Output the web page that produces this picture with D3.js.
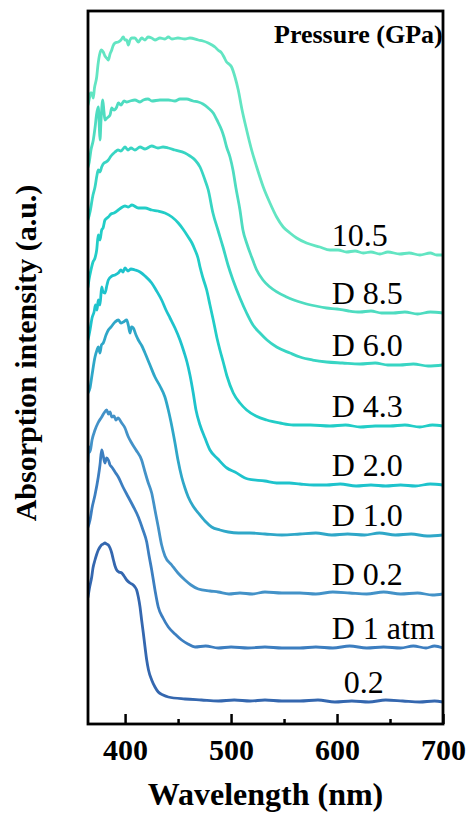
<!DOCTYPE html>
<html>
<head>
<meta charset="utf-8">
<script src="https://cdn.jsdelivr.net/npm/d3@7"></script>
<style>
  body { margin: 0; background: #fff; }
  svg { display: block; }
</style>
</head>
<body>
<div id="chart"></div>
<script>
// pressure labels, top to bottom
const labels = ["10.5", "D 8.5", "D 6.0", "D 4.3", "D 2.0", "D 1.0", "D 0.2", "D 1 atm", "0.2"];
const colors = ["#62e5c2", "#4edcc0", "#38d5c3", "#22cdc7", "#1ec3cc", "#2fa7c8", "#4392c8", "#3c7ec0", "#3467af"];

// [wavelength (nm), stacked absorption (a.u.)]
const s105 = [[365,61.9],[366.4,62.6],[367.4,63.1],[368.5,63.1],[370,62.6],[371.1,63.6],[373.2,64.7],[374.4,65.9],[376.3,67.1],[377.7,67.4],[379.4,67.2],[381,66.8],[382.6,66.6],[384.2,66.4],[385.8,67.0],[387.4,67.4],[388.6,67.8],[390.5,68.1],[393.6,68.2],[396.1,68.4],[398.3,68.7],[399.9,68.4],[401.5,68.4],[403,67.9],[404.6,68.4],[406.2,68.6],[409.3,68.6],[412.5,68.2],[415.6,68.6],[418.8,68.4],[421.6,68.7],[425.1,68.6],[428.2,68.4],[432.9,68.6],[437.6,68.5],[440.8,68.7],[444.2,68.5],[449.9,68.6],[456.5,68.5],[461.2,68.6],[469.1,68.4],[473.5,68.3],[478.5,68.1],[482,67.9],[484.8,67.7],[487.6,67.4],[491.1,67.1],[493.3,66.7],[495.8,66.2],[498,66.0],[500.5,65.7],[503.7,64.7],[506.8,63.4],[510,61.6],[514.7,59.4],[519.4,57.4],[524.2,55.7],[530.4,53.7],[536.7,52.1],[543,50.7],[549.2,49.7],[555.6,49.1],[561.9,48.6],[571.2,48.1],[583.8,47.7],[593.3,47.4],[601,47.4],[609,47.2],[617,47.3],[624.7,47.1],[632,47.2],[640.5,47.0],[648,47.2],[659.3,47.0],[668,47.1],[678.2,46.9],[688,47.1],[694,46.9],[700,46.9]];
const sD85 = [[365,55.7],[366.2,56.2],[367.8,57.4],[370,58.4],[371.6,59.6],[373,60.9],[374.7,61.7],[375.6,59.9],[376.3,58.4],[377.3,60.4],[378.9,62.4],[380.1,61.2],[381,60.4],[382.9,60.6],[384.2,60.7],[385.8,60.9],[387.4,61.6],[389.5,61.4],[392.1,61.7],[393.6,62.1],[396.1,61.9],[399,62.3],[401.5,62.2],[404.6,62.3],[409.3,62.4],[414.1,62.2],[417.2,62.4],[421.6,62.5],[425.4,62.3],[432.9,62.4],[440.8,62.4],[447.1,62.3],[451.8,62.5],[458.1,62.5],[464.1,62.3],[469.1,62.2],[473.5,62.0],[478.5,61.6],[483.2,61.1],[486.7,60.4],[491.1,59.4],[493.3,58.7],[495.8,57.7],[499,56.7],[501.8,55.4],[504.6,53.6],[508.4,51.4],[511.2,49.4],[514.7,48.1],[519.4,46.7],[524.2,45.4],[530.1,44.4],[536.7,43.7],[552.4,42.7],[568.1,42.1],[580,41.8],[590.2,41.6],[600,41.5],[611,41.3],[621.6,41.2],[632,41.3],[642,41.1],[653,41.1],[664,41.2],[676,41.0],[688,41.2],[700,41.1]];
const sD60 = [[365,50.4],[366.9,51.2],[369.7,52.9],[371.6,53.7],[373.5,54.9],[374.7,55.4],[376.3,55.2],[377.9,55.7],[380.1,56.1],[382,56.2],[384.2,56.4],[386.7,56.8],[390.5,57.2],[393.3,57.4],[396.1,57.3],[399.9,57.7],[402.7,57.4],[405.6,57.6],[409.3,57.4],[414.1,57.7],[418.8,57.5],[425.1,57.8],[431,57.6],[435.8,57.7],[440.8,57.6],[447.1,57.4],[456.5,57.1],[461.2,56.8],[466,56.4],[470.7,55.7],[475.4,54.4],[478.5,53.4],[482.9,51.1],[487.6,49.4],[492.4,47.7],[497.1,45.9],[501.8,44.4],[508.4,42.6],[514.7,41.1],[520.7,39.9],[527.3,39.1],[533.9,38.4],[543,37.7],[555.6,37.1],[565,36.7],[577,36.4],[590.2,36.2],[605,36.1],[621.6,36.0],[636,36.1],[648,35.9],[659.3,35.9],[672,36.0],[686,35.8],[700,35.9]];
const sD43 = [[365,43.7],[365.9,44.4],[367.8,45.4],[369.7,46.2],[371.6,46.6],[373.2,47.4],[374.7,48.9],[376.3,48.4],[377.9,49.4],[379.2,49.6],[381,50.4],[384.2,50.7],[386.7,51.0],[389.5,51.1],[393.6,51.4],[396.1,51.6],[399.9,51.8],[403,51.7],[406.5,51.9],[412.5,51.6],[418.8,51.6],[425.1,51.4],[431,51.3],[437.6,51.1],[444.2,50.7],[450.2,50.1],[454.6,49.5],[459.6,48.7],[463.1,48.1],[466,47.4],[468.8,46.6],[470.7,45.7],[473.5,44.6],[477,43.4],[480.1,41.9],[483.2,40.4],[486.7,38.6],[489.5,37.4],[492.6,36.2],[496.1,34.8],[502.1,33.1],[508.4,32.1],[514.7,31.4],[523.5,30.8],[533.6,30.4],[546.1,30.1],[558.7,29.9],[575,29.9],[593.3,29.8],[608,29.9],[622,29.7],[636,29.8],[650,29.8],[664,29.9],[678,29.7],[690,29.9],[700,29.8]];
const sD20 = [[365,38.4],[366.9,39.4],[368.8,40.6],[370.7,41.2],[372.1,41.9],[373.5,41.4],[374.7,42.4],[376.3,41.9],[377.9,43.7],[379.2,43.2],[381,43.1],[382.9,43.9],[384.2,44.4],[387.6,44.8],[390.5,44.9],[393.6,45.1],[396.1,45.4],[398,45.2],[399.9,45.6],[402.7,45.3],[405.6,45.5],[409.3,45.4],[414.1,45.2],[418.8,44.8],[425.1,44.1],[429.2,43.4],[434.5,42.4],[438.6,41.4],[442.4,40.6],[447.1,39.6],[451.8,38.4],[455.6,37.2],[458.4,36.2],[461.2,34.9],[464.3,33.1],[466.9,31.4],[470.7,29.9],[475.4,28.6],[480.1,27.4],[487.6,26.5],[496.1,25.6],[503.7,25.2],[515.9,24.5],[532,24.3],[543,24.1],[555,24.1],[565,24.0],[578,23.9],[590.2,23.9],[603,24.0],[618,23.8],[632,23.9],[646,23.8],[660,23.9],[674,23.8],[688,24.0],[700,23.9]];
const sD10 = [[365,33.1],[366.9,33.6],[368.8,34.9],[371.6,36.7],[373.5,37.4],[374.7,37.7],[376.3,37.1],[377.7,37.9],[379.4,38.1],[382,38.9],[384.2,39.4],[386.7,39.7],[390.5,40.2],[393.6,40.4],[396.1,40.1],[398.3,40.2],[401.5,40.4],[403.2,39.8],[404.6,39.1],[406,39.7],[407.7,39.6],[410.3,38.9],[412.5,38.4],[415.9,37.8],[418.8,37.1],[423.5,35.9],[428.2,34.7],[432.9,33.8],[437.6,32.7],[440.8,31.4],[443.3,30.2],[447.1,28.1],[449.9,26.4],[453.4,24.7],[456.5,23.6],[459.6,22.7],[464.1,21.8],[469.1,21.1],[475.4,20.3],[481.7,19.7],[489.5,19.4],[497.4,19.2],[507,19.1],[517.8,19.1],[532,19.0],[548,18.9],[565,19.0],[580,19.1],[595,18.9],[610,19.0],[626,18.9],[640,19.1],[655,18.9],[670,19.0],[685,18.8],[700,18.9]];
const sD02 = [[365,26.2],[365.9,27.7],[366.9,27.2],[368.8,28.4],[371.6,29.4],[374.4,30.1],[377.9,30.7],[380.1,31.1],[382.6,31.4],[384.3,31.0],[385.8,31.2],[387.4,30.7],[389.5,30.8],[391.4,30.4],[393.3,30.6],[396.8,30.1],[399.9,29.6],[402.7,28.8],[406.2,28.1],[410.3,27.4],[415.6,26.4],[418.8,25.2],[421.6,24.2],[425.1,23.1],[428.2,21.4],[431.3,19.7],[434.5,17.9],[437.6,16.8],[444,15.9],[449.9,15.1],[456.5,14.4],[462.2,13.9],[469.1,13.5],[480.1,13.3],[487.9,13.2],[498,13.0],[508.4,13.1],[520,13.0],[532,13.2],[548,13.1],[565,13.1],[580,13.0],[596,13.2],[612,13.1],[628,13.0],[644,13.2],[660,13.0],[676,13.1],[690,12.9],[700,13.0]];
const sD1atm = [[365,19.7],[366.9,20.4],[368.8,21.6],[371.6,22.9],[374.7,24.7],[376.3,25.9],[377.9,27.4],[379.2,26.9],[381,26.1],[382.5,26.6],[384.2,26.4],[385.8,25.9],[387.4,25.7],[390.5,25.2],[393.6,24.7],[398,23.7],[403,22.7],[407.5,21.8],[412.5,20.7],[416.9,19.4],[420.4,18.2],[422.5,16.9],[425.1,15.4],[428.2,13.4],[431.3,11.7],[435.8,10.6],[440.8,9.7],[447.1,9.0],[453.4,8.4],[459.3,8.0],[466,7.7],[476,7.8],[487.9,7.6],[500,7.7],[516,7.6],[532,7.7],[548,7.6],[565,7.6],[580,7.7],[596,7.6],[612,7.8],[628,7.6],[644,7.7],[660,7.6],[672,7.8],[684,7.6],[692,7.8],[700,7.6]];
const s02 = [[365,12.7],[366.4,13.6],[368.5,14.7],[369.7,15.6],[371.6,16.4],[373,16.9],[374.7,17.4],[376.3,17.7],[377.7,17.9],[379.4,18.0],[381,18.1],[382.5,18.0],[384.2,17.9],[385.8,17.6],[387.4,17.1],[389,16.4],[390.5,15.8],[392.1,15.4],[394.2,15.2],[396.8,15.1],[399,14.8],[401.5,14.4],[404.6,14.1],[407.7,13.9],[409.3,13.7],[410.9,13.4],[412.5,12.7],[414.1,11.7],[415.6,10.4],[417.2,9.1],[418.8,7.7],[420.4,6.4],[422.1,5.4],[425.1,4.4],[428.2,3.7],[431.3,3.2],[435.8,2.9],[440.8,2.7],[456.5,2.5],[472,2.4],[487.9,2.3],[503,2.4],[518,2.3],[532,2.4],[548,2.3],[565,2.3],[582,2.4],[598,2.2],[614,2.3],[630,2.2],[646,2.4],[662,2.3],[678,2.2],[692,2.3],[700,2.2]];

const series = [s105, sD85, sD60, sD43, sD20, sD10, sD02, sD1atm, s02];

const xTicks = [400, 500, 600, 700];
const xMinorTicks = [450, 550, 650];

const width = 474, height = 816;
const margin = { top: 11, right: 31, bottom: 92, left: 88 };
const serif = "'Liberation Serif', 'Times New Roman', Times, serif";

const svg = d3.select("#chart").append("svg")
    .attr("width", width)
    .attr("height", height);

const x = d3.scaleLinear()
    .domain([365, 700])
    .range([margin.left, width - margin.right]);

const y = d3.scaleLinear()
    .domain([0, 71.3])
    .range([height - margin.bottom, margin.top]);

const line = d3.line()
    .x(d => x(d[0]))
    .y(d => y(d[1]))
    .curve(d3.curveMonotoneX);

svg.append("defs").append("clipPath")
    .attr("id", "plot-clip")
    .append("rect")
    .attr("x", margin.left)
    .attr("y", margin.top)
    .attr("width", width - margin.left - margin.right)
    .attr("height", height - margin.top - margin.bottom);

svg.append("g")
    .attr("clip-path", "url(#plot-clip)")
    .selectAll("path")
    .data(series)
    .join("path")
    .attr("d", line)
    .attr("fill", "none")
    .attr("stroke", (d, i) => colors[i])
    .attr("stroke-width", 2.8)
    .attr("stroke-linejoin", "round")
    .attr("stroke-linecap", "round");

// curve labels sit just above each spectrum's right end
svg.append("g")
    .selectAll("text")
    .data(labels)
    .join("text")
    .attr("x", (d, i) => x(595) + (d === "0.2" ? 12 : 0))
    .attr("y", (d, i) => y(series[i][series[i].length - 1][1]) - 9)
    .attr("font-family", serif)
    .attr("font-size", 32)
    .attr("fill", "#000")
    .text(d => d);

svg.append("text")
    .attr("x", 274)
    .attr("y", 43)
    .attr("font-family", serif)
    .attr("font-size", 26)
    .attr("font-weight", "bold")
    .text("Pressure (GPa)");

// bottom axis, ticks pointing inward
const xAxis = svg.append("g")
    .attr("transform", `translate(0,${height - margin.bottom})`)
    .call(d3.axisBottom(x).tickValues(xTicks).tickSize(-10).tickPadding(15).tickFormat(d3.format("d")));

xAxis.select(".domain").remove();
xAxis.selectAll(".tick line").attr("stroke", "#000").attr("stroke-width", 2.5);
xAxis.selectAll(".tick text")
    .attr("font-family", serif)
    .attr("font-size", 30)
    .attr("font-weight", "bold")
    .attr("fill", "#000");

const xMinor = svg.append("g")
    .attr("transform", `translate(0,${height - margin.bottom})`)
    .call(d3.axisBottom(x).tickValues(xMinorTicks).tickSize(-5).tickFormat(""));
xMinor.select(".domain").remove();
xMinor.selectAll(".tick line").attr("stroke", "#000").attr("stroke-width", 2.5);

svg.append("rect")
    .attr("x", margin.left)
    .attr("y", margin.top)
    .attr("width", width - margin.left - margin.right)
    .attr("height", height - margin.top - margin.bottom)
    .attr("fill", "none")
    .attr("stroke", "#000")
    .attr("stroke-width", 2.8);

svg.append("text")
    .attr("x", (margin.left + width - margin.right) / 2)
    .attr("y", 805)
    .attr("text-anchor", "middle")
    .attr("font-family", serif)
    .attr("font-size", 32)
    .attr("font-weight", "bold")
    .text("Wavelength (nm)");

svg.append("text")
    .attr("transform", "translate(36,353) rotate(-90)")
    .attr("text-anchor", "middle")
    .attr("font-family", serif)
    .attr("font-size", 30)
    .attr("font-weight", "bold")
    .text("Absorption intensity (a.u.)");
</script>
</body>
</html>
